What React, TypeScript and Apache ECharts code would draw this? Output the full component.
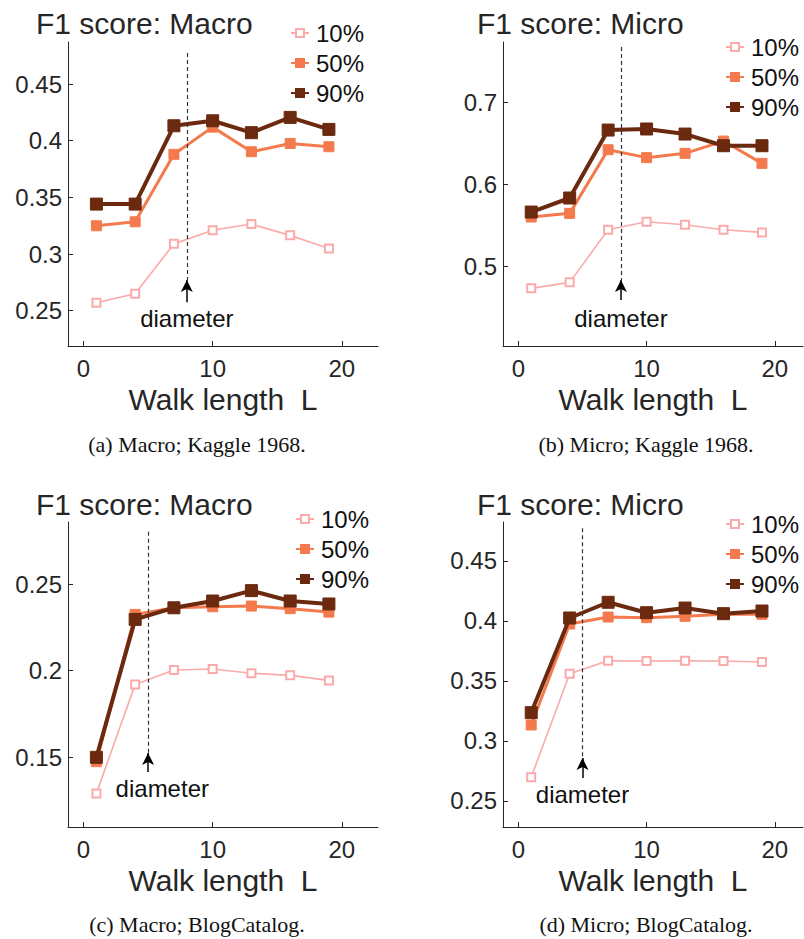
import React, { useEffect, useRef } from "react";
import * as echarts from "echarts";

// ---- data ----
const WALK_LENGTHS = [1, 4, 7, 10, 13, 16, 19];
const SERIES_NAMES = ["10%", "50%", "90%"];
const X_TICKS = [0, 10, 20];

const KAGGLE_MACRO_10 = [0.257, 0.265, 0.309, 0.321, 0.3265, 0.3165, 0.305];
const KAGGLE_MACRO_50 = [0.325, 0.3285, 0.388, 0.412, 0.3903, 0.3976, 0.3947];
const KAGGLE_MACRO_90 = [0.3441, 0.3441, 0.4132, 0.4176, 0.4071, 0.4206, 0.41];

const KAGGLE_MICRO_10 = [0.4727, 0.48, 0.5445, 0.5543, 0.5506, 0.5445, 0.5412];
const KAGGLE_MICRO_50 = [0.56, 0.5645, 0.6424, 0.6327, 0.638, 0.653, 0.6257];
const KAGGLE_MICRO_90 = [0.5661, 0.5833, 0.6665, 0.6678, 0.6616, 0.6473, 0.6473];

const BLOG_MACRO_10 = [0.1292, 0.1921, 0.2004, 0.201, 0.1985, 0.1973, 0.1944];
const BLOG_MACRO_50 = [0.1475, 0.2325, 0.2363, 0.2369, 0.2373, 0.2358, 0.2338];
const BLOG_MACRO_90 = [0.15, 0.2296, 0.2363, 0.2402, 0.2462, 0.2402, 0.2385];

const BLOG_MICRO_10 = [0.2697, 0.3561, 0.3669, 0.3667, 0.3669, 0.3667, 0.3658];
const BLOG_MICRO_50 = [0.3133, 0.3975, 0.4033, 0.4028, 0.4039, 0.4056, 0.4056];
const BLOG_MICRO_90 = [0.3236, 0.4025, 0.4156, 0.4069, 0.4108, 0.4061, 0.4083];

const Y_TICKS_A = [0.25, 0.3, 0.35, 0.4, 0.45];
const Y_TICKS_B = [0.5, 0.6, 0.7];
const Y_TICKS_C = [0.15, 0.2, 0.25];
const Y_TICKS_D = [0.25, 0.3, 0.35, 0.4, 0.45];

const DIAMETERS = [8, 8, 5, 5];
const TITLES = ["F1 score: Macro", "F1 score: Micro", "F1 score: Macro", "F1 score: Micro"];
const CAPTIONS = [
  "(a) Macro; Kaggle 1968.",
  "(b) Micro; Kaggle 1968.",
  "(c) Macro; BlogCatalog.",
  "(d) Micro; BlogCatalog.",
];
const X_NAME = "Walk length  L";
const DIAMETER_LABEL = "diameter";

// ---- layout / styles ----
const COLORS = ["#fbaaaa", "#f47a4e", "#6b2a0f"];
const LINE_WIDTHS = [1.6, 3, 4];
const SYMBOLS = ["emptyRect", "rect", "rect"];
const SYMBOL_SIZES = [8, 10, 12];
const AXIS_COLOR = "#262626";
const FONT = "'Liberation Sans', Arial, Helvetica, sans-serif";

const PANELS = [
  {
    values: [KAGGLE_MACRO_10, KAGGLE_MACRO_50, KAGGLE_MACRO_90],
    yTicks: Y_TICKS_A,
    grid: { left: 68, top: 42, width: 310, height: 304 },
    x: [-1.2, 22.8],
    y: [0.2189, 0.4871],
    titlePos: { left: 36, top: 8 },
    legendPos: { left: 290, top: 21 },
    dash: [0.4774, 0.2771],
    arrow: [0.2574, 0.2771],
    textAt: [8, 0.2436],
    caption: { x: 197, y: 444 },
  },
  {
    values: [KAGGLE_MICRO_10, KAGGLE_MICRO_50, KAGGLE_MICRO_90],
    yTicks: Y_TICKS_B,
    grid: { left: 503, top: 42, width: 300, height: 304 },
    x: [-1.2, 22.2],
    y: [0.4021, 0.7743],
    titlePos: { left: 477, top: 8 },
    legendPos: { left: 725, top: 35 },
    dash: [0.7681, 0.4829],
    arrow: [0.4584, 0.4829],
    textAt: [8, 0.4363],
    caption: { x: 646, y: 444 },
  },
  {
    values: [BLOG_MACRO_10, BLOG_MACRO_50, BLOG_MACRO_90],
    yTicks: Y_TICKS_C,
    grid: { left: 68, top: 522, width: 310, height: 305 },
    x: [-1.2, 22.8],
    y: [0.1098, 0.2858],
    titlePos: { left: 36, top: 489 },
    legendPos: { left: 295, top: 507 },
    dash: [0.2802, 0.1525],
    arrow: [0.1415, 0.1525],
    textAt: [6.1, 0.1323],
    caption: { x: 197, y: 924 },
  },
  {
    values: [BLOG_MICRO_10, BLOG_MICRO_50, BLOG_MICRO_90],
    yTicks: Y_TICKS_D,
    grid: { left: 503, top: 522, width: 300, height: 305 },
    x: [-1.2, 22.2],
    y: [0.2283, 0.4825],
    titlePos: { left: 477, top: 489 },
    legendPos: { left: 725, top: 512 },
    dash: [0.4773, 0.2858],
    arrow: [0.2692, 0.2858],
    textAt: [5, 0.2553],
    caption: { x: 646, y: 924 },
  },
];

function fmt(v: number) {
  return String(+Number(v).toFixed(3));
}

export default function App() {
  const ref = useRef<HTMLDivElement>(null);
  useEffect(() => {
    if (!ref.current) return;
    const chart = echarts.init(ref.current, null, { renderer: "svg" });

    const grids: any[] = [];
    const xAxes: any[] = [];
    const yAxes: any[] = [];
    const series: any[] = [];
    const titles: any[] = [];
    const legends: any[] = [];
    const graphics: any[] = [];

    PANELS.forEach((p, i) => {
      grids.push({ ...p.grid, containLabel: false });
      xAxes.push({
        type: "value",
        gridIndex: i,
        min: p.x[0],
        max: p.x[1],
        name: X_NAME,
        nameLocation: "middle",
        nameGap: 38,
        nameTextStyle: { fontSize: 30, color: AXIS_COLOR, fontFamily: FONT },
        axisLine: { show: true, onZero: false, lineStyle: { color: AXIS_COLOR, width: 1 } },
        axisTick: { show: true, inside: true, length: 5, customValues: X_TICKS, lineStyle: { color: AXIS_COLOR } },
        axisLabel: { customValues: X_TICKS, fontSize: 24, color: AXIS_COLOR, margin: 10, fontFamily: FONT },
        splitLine: { show: false },
      });
      yAxes.push({
        type: "value",
        gridIndex: i,
        min: p.y[0],
        max: p.y[1],
        axisLine: { show: true, onZero: false, lineStyle: { color: AXIS_COLOR, width: 1 } },
        axisTick: { show: true, inside: true, length: 5, customValues: p.yTicks, lineStyle: { color: AXIS_COLOR } },
        axisLabel: {
          customValues: p.yTicks,
          fontSize: 24,
          color: AXIS_COLOR,
          margin: 6,
          fontFamily: FONT,
          formatter: (v: number) => fmt(v),
        },
        splitLine: { show: false },
      });
      titles.push({
        text: TITLES[i],
        left: p.titlePos.left,
        top: p.titlePos.top,
        padding: 0,
        textStyle: { fontSize: 30, fontWeight: "normal", color: AXIS_COLOR, fontFamily: FONT },
      });
      legends.push({
        data: SERIES_NAMES,
        orient: "vertical",
        left: p.legendPos.left,
        top: p.legendPos.top,
        padding: 0,
        itemWidth: 18,
        itemHeight: 10,
        itemGap: 6,
        selectedMode: false,
        textStyle: { fontSize: 24, lineHeight: 24, color: "#111", fontFamily: FONT, padding: [0, 0, 0, 2] },
      });
      p.values.forEach((vals, k) => {
        const s: any = {
          type: "line",
          name: SERIES_NAMES[k],
          xAxisIndex: i,
          yAxisIndex: i,
          data: WALK_LENGTHS.map((x, j) => [x, vals[j]]),
          symbol: SYMBOLS[k],
          symbolSize: SYMBOL_SIZES[k],
          showAllSymbol: true,
          lineStyle: { color: COLORS[k], width: LINE_WIDTHS[k] },
          itemStyle: { color: COLORS[k], borderColor: COLORS[k], borderWidth: k === 0 ? 1.6 : 1 },
          z: 3 + k,
          silent: true,
        };
        if (k === 0) {
          const d = DIAMETERS[i];
          s.markLine = {
            silent: true,
            symbol: ["none", "none"],
            label: { show: false },
            animation: false,
            data: [
              [
                { coord: [d, p.dash[0]], lineStyle: { color: "#333", width: 1.2, type: [4, 3] } },
                { coord: [d, p.dash[1]] },
              ],
              [
                { coord: [d, p.arrow[0]], symbol: "none", lineStyle: { color: "#000", width: 1.5, type: "solid" } },
                { coord: [d, p.arrow[1]], symbol: "arrow", symbolSize: [9, 12] },
              ],
            ],
          };
          s.markPoint = {
            silent: true,
            animation: false,
            symbol: "rect",
            symbolSize: 1,
            itemStyle: { color: "rgba(0,0,0,0)" },
            label: {
              show: true,
              position: "inside",
              formatter: DIAMETER_LABEL,
              fontSize: 24,
              color: "#111",
              fontFamily: FONT,
            },
            data: [{ coord: p.textAt }],
          };
        }
        series.push(s);
      });
      graphics.push({
        type: "text",
        x: p.caption.x,
        y: p.caption.y,
        style: {
          text: CAPTIONS[i],
          fontSize: 22,
          fontFamily: "'Liberation Serif', 'Times New Roman', serif",
          fill: "#111",
          align: "center",
          verticalAlign: "middle",
        },
      });
    });

    chart.setOption({
      animation: false,
      backgroundColor: "#ffffff",
      title: titles,
      legend: legends,
      grid: grids,
      xAxis: xAxes,
      yAxis: yAxes,
      series,
      graphic: graphics,
    });
    return () => chart.dispose();
  }, []);

  return (
    <div
      ref={ref}
      style={{ position: "absolute", left: 0, top: 0, width: 804, height: 939, background: "#fff" }}
    />
  );
}
